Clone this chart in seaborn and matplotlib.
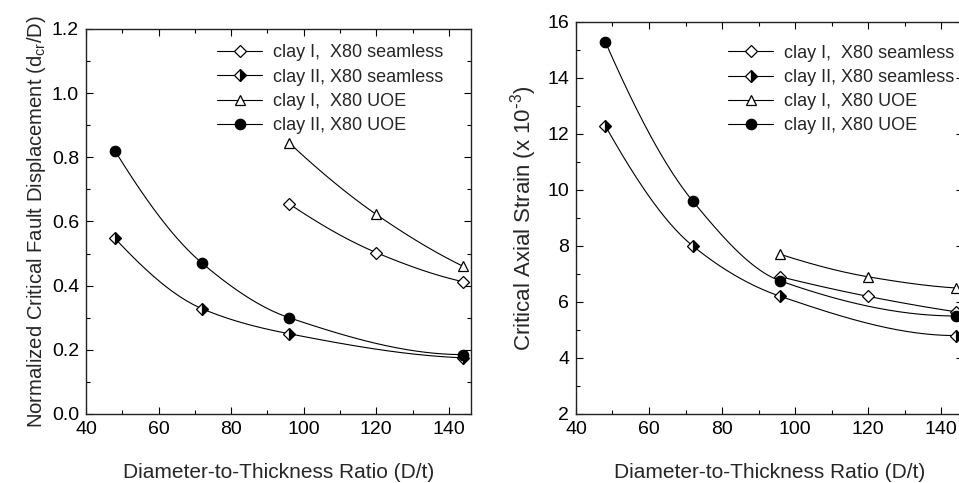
import numpy as np
import matplotlib
matplotlib.use("Agg")
import matplotlib.pyplot as plt
import seaborn as sns
from matplotlib.lines import Line2D
from matplotlib.ticker import MultipleLocator

sns.set_theme(style="ticks")
plt.rcParams['font.family'] = ['Liberation Sans', 'DejaVu Sans']
plt.rcParams['mathtext.default'] = 'regular'

labels = ["clay I,  X80 seamless", "clay II, X80 seamless", "clay I,  X80 UOE", "clay II, X80 UOE"]

# Left panel: normalized critical fault displacement
x_c1_seam = [96, 120, 144]
y1_c1_seam = [0.655, 0.503, 0.412]
x_c2_seam = [48, 72, 96, 144]
y1_c2_seam = [0.547, 0.328, 0.250, 0.175]
x_c1_uoe = [96, 120, 144]
y1_c1_uoe = [0.845, 0.622, 0.460]
x_c2_uoe = [48, 72, 96, 144]
y1_c2_uoe = [0.820, 0.470, 0.300, 0.185]

# Right panel: critical axial strain (x 1e-3)
y2_c1_seam = [6.90, 6.20, 5.65]
y2_c2_seam = [12.3, 8.0, 6.2, 4.8]
y2_c1_uoe = [7.70, 6.90, 6.50]
y2_c2_uoe = [15.3, 9.6, 6.75, 5.5]


def pchip(x, y, n=200):
    x = np.asarray(x, float); y = np.asarray(y, float)
    h = np.diff(x); d = np.diff(y) / h
    m = np.zeros_like(y)
    for k in range(1, len(x) - 1):
        if d[k - 1] * d[k] > 0:
            w1 = 2 * h[k] + h[k - 1]; w2 = h[k] + 2 * h[k - 1]
            m[k] = (w1 + w2) / (w1 / d[k - 1] + w2 / d[k])
    m[0] = d[0]; m[-1] = d[-1]
    if len(x) > 2:
        m0 = ((2 * h[0] + h[1]) * d[0] - h[0] * d[1]) / (h[0] + h[1])
        m[0] = m0 if np.sign(m0) == np.sign(d[0]) else 0
        mn = ((2 * h[-1] + h[-2]) * d[-1] - h[-1] * d[-2]) / (h[-1] + h[-2])
        m[-1] = mn if np.sign(mn) == np.sign(d[-1]) else 0
    xs = np.linspace(x[0], x[-1], n)
    idx = np.clip(np.searchsorted(x, xs) - 1, 0, len(x) - 2)
    t = (xs - x[idx]) / h[idx]
    h00 = 2 * t**3 - 3 * t**2 + 1; h10 = t**3 - 2 * t**2 + t
    h01 = -2 * t**3 + 3 * t**2; h11 = t**3 - t**2
    ys = h00 * y[idx] + h10 * h[idx] * m[idx] + h01 * y[idx + 1] + h11 * h[idx] * m[idx + 1]
    return xs, ys


styles = [
    dict(marker='D', markersize=6.5, markerfacecolor='white', markeredgecolor='black', markeredgewidth=0.9),
    dict(marker='D', markersize=6.5, markerfacecolor='black', markerfacecoloralt='white', fillstyle='right',
         markeredgecolor='black', markeredgewidth=0.9),
    dict(marker='^', markersize=7.5, markerfacecolor='white', markeredgecolor='black', markeredgewidth=0.9),
    dict(marker='o', markersize=7.5, markerfacecolor='black', markeredgecolor='black', markeredgewidth=0.9),
]

fig = plt.figure(figsize=(9.59, 4.83), dpi=100)
ax1 = fig.add_axes([0.0897, 0.1429, 0.401, 0.7971])
ax2 = fig.add_axes([0.6006, 0.1429, 0.4036, 0.8116])

panels = [
    (ax1, [(x_c1_seam, y1_c1_seam), (x_c2_seam, y1_c2_seam), (x_c1_uoe, y1_c1_uoe), (x_c2_uoe, y1_c2_uoe)],
     (0.341, 0.96)),
    (ax2, [(x_c1_seam, y2_c1_seam), (x_c2_seam, y2_c2_seam), (x_c1_uoe, y2_c1_uoe), (x_c2_uoe, y2_c2_uoe)],
     (0.393, 0.942)),
]

for ax, series, anchor in panels:
    for (xv, yv), st in zip(series, styles):
        xs, ys = pchip(xv, yv)
        sns.lineplot(x=xs, y=ys, ax=ax, color='black', linewidth=0.8, sort=False)
        ax.plot(xv, yv, linestyle='none', zorder=3, **st)
    handles = [Line2D([0], [0], color='black', linewidth=0.8, **st) for st in styles]
    ax.legend(handles, labels, loc='upper left', bbox_to_anchor=anchor,
              frameon=False, fontsize=13, handlelength=2.5, labelspacing=0.4, handletextpad=0.6,
              borderaxespad=0, borderpad=0)
    ax.set_xlim(40, 146)
    ax.xaxis.set_major_locator(MultipleLocator(20))
    ax.xaxis.set_minor_locator(MultipleLocator(10))
    ax.tick_params(which='both', direction='in', top=True, right=True, colors='black', labelsize=14)
    ax.tick_params(which='major', length=5, width=0.8, pad=5)
    ax.tick_params(which='minor', length=3, width=0.8)
    for sp in ax.spines.values():
        sp.set_color('#222222'); sp.set_linewidth(1.0)
    ax.set_xlabel('Diameter-to-Thickness Ratio (D/t)', fontsize=15, labelpad=18)
    ax.set_facecolor('white')

ax1.set_ylim(0, 1.2)
ax1.yaxis.set_major_locator(MultipleLocator(0.2))
ax1.yaxis.set_minor_locator(MultipleLocator(0.1))
ax1.yaxis.set_major_formatter(matplotlib.ticker.FormatStrFormatter('%.1f'))
ax1.set_ylabel('Normalized Critical Fault Displacement (d$_{cr}$/D)', fontsize=14.6, labelpad=3)

ax2.set_ylim(2, 16)
ax2.yaxis.set_major_locator(MultipleLocator(2))
ax2.yaxis.set_minor_locator(MultipleLocator(1))
ax2.set_ylabel('Critical Axial Strain (x 10$^{\\mathrm{\u2010}3}$)', fontsize=16, labelpad=6)

fig.savefig('out.png', dpi=100, facecolor='white')
